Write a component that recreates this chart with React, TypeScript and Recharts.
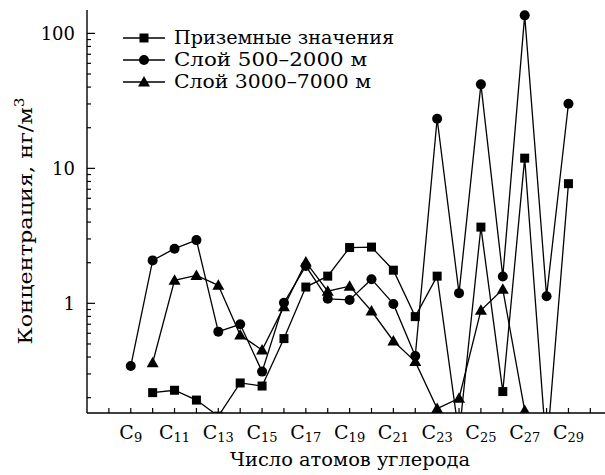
import { LineChart, Line, XAxis, YAxis, Legend } from "recharts";

// число атомов углерода (C9 ... C29)
const carbonNumbers = [9, 10, 11, 12, 13, 14, 15, 16, 17, 18, 19, 20, 21, 22, 23, 24, 25, 26, 27, 28, 29];

// концентрации, нг/м3
const groundLevel = [null, 0.218, 0.227, 0.192, 0.146, 0.257, 0.244, 0.548, 1.32, 1.59, 2.59, 2.61, 1.76, 0.797, 1.59, 0.105, 3.67, 0.222, 11.9, 0.08, 7.7];
const layer500to2000 = [0.343, 2.08, 2.54, 2.94, 0.617, 0.699, 0.312, 1.01, 1.89, 1.08, 1.06, 1.51, 0.99, 0.407, 23.3, 1.19, 41.9, 1.58, 136, 1.13, 30.1];
const layer3000to7000 = [null, 0.363, 1.48, 1.61, 1.36, 0.582, 0.451, 0.945, 2.02, 1.23, 1.34, 0.877, 0.526, 0.37, 0.166, 0.198, 0.888, 1.27, 0.161, null, null];

const seriesKeys = ["ground", "low", "high"];
const seriesNames = ["Приземные значения", "Слой 500\u20132000 м", "Слой 3000\u20137000 м"];

const xTicks = [8, 9, 10, 11, 12, 13, 14, 15, 16, 17, 18, 19, 20, 21, 22, 23, 24, 25, 26, 27, 28, 29, 30];
const yTicks = [0.2, 0.3, 0.4, 0.5, 0.6, 0.7, 0.8, 0.9, 1, 2, 3, 4, 5, 6, 7, 8, 9, 10, 20, 30, 40, 50, 60, 70, 80, 90, 100];
const yLabelled = [1, 10, 100];

const data = carbonNumbers.map((c, i) => ({
  c,
  ground: groundLevel[i],
  low: layer500to2000[i],
  high: layer3000to7000[i],
}));

const textStyle = { fontFamily: '"DejaVu Serif", serif', fill: "#000" };

const Square = (props: any) => {
  const { cx, cy } = props;
  if (cx == null || cy == null) return null;
  return <rect key={props.key} x={cx - 4.5} y={cy - 4.5} width={9} height={9} fill="#000" />;
};

const Circle = (props: any) => {
  const { cx, cy } = props;
  if (cx == null || cy == null) return null;
  return <circle key={props.key} cx={cx} cy={cy} r={5} fill="#000" />;
};

const Triangle = (props: any) => {
  const { cx, cy } = props;
  if (cx == null || cy == null) return null;
  return (
    <polygon
      key={props.key}
      points={`${cx},${cy - 6} ${cx - 6},${cy + 4.5} ${cx + 6},${cy + 4.5}`}
      fill="#000"
    />
  );
};

const markers = [Square, Circle, Triangle];

const CarbonTick = ({ x, y, payload }: any) => {
  const n = payload.value;
  const labelled = n % 2 === 1 && n >= 9 && n <= 29;
  return (
    <g>
      <line x1={x} y1={y} x2={x} y2={y - 5} stroke="#000" strokeWidth={1.2} />
      {labelled && (
        <text x={x} y={y + 26} textAnchor="middle" fontSize={19} style={textStyle}>
          C
          <tspan fontSize={13} dy={3}>
            {n}
          </tspan>
        </text>
      )}
    </g>
  );
};

const ConcTick = ({ x, y, payload }: any) => {
  const v = payload.value;
  const major = yLabelled.includes(v);
  return (
    <g>
      <line x1={x} y1={y} x2={x + (major ? 8 : 4)} y2={y} stroke="#000" strokeWidth={1.2} />
      {major && (
        <text x={x - 12} y={y} dy="0.35em" textAnchor="end" fontSize={18} style={textStyle}>
          {v}
        </text>
      )}
    </g>
  );
};

const legendTextLength = [220, 193, 197];

const renderLegend = () => (
  <svg width={300} height={70} style={{ display: "block" }}>
    {seriesKeys.map((key, i) => {
      const Marker = markers[i];
      const cy = 11 + i * 22;
      return (
        <g key={key}>
          <line x1={11} y1={cy} x2={53} y2={cy} stroke="#000" strokeWidth={1.3} />
          <Marker cx={32} cy={cy} />
          <text
            x={62}
            y={cy}
            dy="0.35em"
            fontSize={18}
            textLength={legendTextLength[i]}
            lengthAdjust="spacingAndGlyphs"
            style={textStyle}
          >
            {seriesNames[i]}
          </text>
        </g>
      );
    })}
  </svg>
);

export default function App() {
  return (
    <div style={{ position: "absolute", left: 0, top: 0, width: 605, height: 475, overflow: "hidden", background: "#fff" }}>
      <LineChart width={605} height={475} data={data} margin={{ top: 10, right: 0, bottom: 0, left: 0 }}>
        <XAxis
          dataKey="c"
          type="number"
          domain={[7, 30.67]}
          ticks={xTicks}
          interval={0}
          height={62}
          tickSize={0}
          tickMargin={0}
          tickLine={false}
          tick={<CarbonTick />}
          axisLine={{ stroke: "#000", strokeWidth: 1.4 }}
          allowDataOverflow
          label={{
            content: () => (
              <text
                x={350}
                y={466}
                textAnchor="middle"
                fontSize={19}
                textLength={240}
                lengthAdjust="spacingAndGlyphs"
                style={textStyle}
              >
                Число атомов углерода
              </text>
            ),
          }}
        />
        <YAxis
          type="number"
          scale="log"
          domain={[0.154, 149]}
          allowDataOverflow
          ticks={yTicks}
          interval={0}
          width={87}
          tickSize={0}
          tickMargin={0}
          tickLine={false}
          tick={<ConcTick />}
          axisLine={{ stroke: "#000", strokeWidth: 1.4 }}
          label={{
            content: () => (
              <text
                x={0}
                y={0}
                transform="translate(32, 221) rotate(-90)"
                textAnchor="middle"
                fontSize={19}
                textLength={247}
                lengthAdjust="spacingAndGlyphs"
                style={textStyle}
              >
                Концентрация, нг/м
                <tspan fontSize={13} dy={-8}>
                  3
                </tspan>
              </text>
            ),
          }}
        />
        <Legend
          layout="vertical"
          align="center"
          verticalAlign="middle"
          content={renderLegend}
          wrapperStyle={{ left: 112, top: 27, width: 300, height: 70 }}
        />
        <Line
          dataKey="ground"
          name={seriesNames[0]}
          stroke="#000"
          strokeWidth={1.3}
          dot={Square}
          activeDot={false}
          isAnimationActive={false}
        />
        <Line
          dataKey="low"
          name={seriesNames[1]}
          stroke="#000"
          strokeWidth={1.3}
          dot={Circle}
          activeDot={false}
          isAnimationActive={false}
        />
        <Line
          dataKey="high"
          name={seriesNames[2]}
          stroke="#000"
          strokeWidth={1.3}
          dot={Triangle}
          activeDot={false}
          isAnimationActive={false}
        />
      </LineChart>
    </div>
  );
}
